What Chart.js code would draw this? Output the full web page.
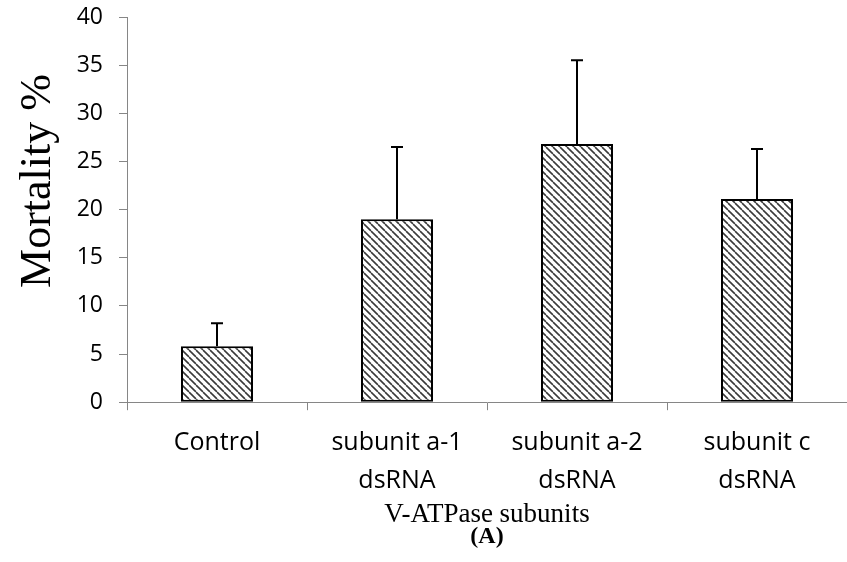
<!DOCTYPE html>
<html>
<head>
<meta charset="utf-8">
<script src="https://cdn.jsdelivr.net/npm/chart.js@4"></script>
<style>
    body { margin: 0; background: #fff; }
    #wrap { width: 847px; height: 562px; }
</style>
</head>
<body>
<div id="wrap"><canvas id="myChart" width="847" height="562"></canvas></div>
<script>
// data
const categories = [["Control"], ["subunit a-1", "dsRNA"], ["subunit a-2", "dsRNA"], ["subunit c", "dsRNA"]];
const mortality = [5.8, 19.0, 26.8, 21.1];
const errorTop = [8.2, 26.5, 35.5, 26.3];
const yTicks = [0, 5, 10, 15, 20, 25, 30, 35, 40];
const yTitle = "Mortality %";

function makeHatch() {
    const size = 7;
    const c = document.createElement("canvas");
    c.width = size;
    c.height = size;
    const g = c.getContext("2d");
    g.fillStyle = "#fff";
    g.fillRect(0, 0, size, size);
    g.strokeStyle = "#3a3a3a";
    g.lineWidth = 1.6;
    for (let k = -1; k <= 1; k++) {
        g.beginPath();
        g.moveTo(k * size, 0);
        g.lineTo(k * size + size, size);
        g.stroke();
    }
    return g.createPattern(c, "repeat");
}

const errorBars = {
    id: "errorBars",
    afterDatasetsDraw(chart) {
        const ctx = chart.ctx;
        const meta = chart.getDatasetMeta(0);
        const y = chart.scales.y;
        ctx.save();
        ctx.strokeStyle = "#000";
        ctx.lineWidth = 2;
        meta.data.forEach((bar, i) => {
            const top = y.getPixelForValue(errorTop[i]);
            ctx.beginPath();
            ctx.moveTo(bar.x, bar.y);
            ctx.lineTo(bar.x, top);
            ctx.moveTo(bar.x - 6, top);
            ctx.lineTo(bar.x + 6, top);
            ctx.stroke();
        });
        ctx.restore();
    }
};

// y title sits a bit above the middle of the axis in the original
const sideTitle = {
    id: "sideTitle",
    afterDraw(chart) {
        const ctx = chart.ctx;
        ctx.save();
        ctx.translate(38, 181);
        ctx.rotate(-Math.PI / 2);
        ctx.fillStyle = "#000";
        ctx.font = "44px 'Liberation Serif'";
        ctx.textAlign = "center";
        ctx.textBaseline = "middle";
        ctx.fillText(yTitle, 0, 0);
        ctx.restore();
    }
};

const config = {
    type: "bar",
    data: {
        labels: categories,
        datasets: [{
            data: mortality,
            backgroundColor: makeHatch(),
            borderColor: "#000",
            borderWidth: 2,
            borderSkipped: false,
            barPercentage: 0.4,
            categoryPercentage: 1
        }]
    },
    options: {
        responsive: false,
        animation: false,
        layout: { padding: { top: 17, right: 0, left: 0, bottom: 11 } },
        plugins: {
            legend: { display: false },
            tooltip: { enabled: false },
            subtitle: {
                display: true,
                text: "(A)",
                position: "bottom",
                fullSize: false,
                color: "#000",
                font: { family: "Liberation Serif", size: 24, weight: "bold" },
                padding: 0
            }
        },
        scales: {
            y: {
                min: 0,
                max: 40,
                afterBuildTicks: (scale) => {
                    scale.ticks = yTicks.map(v => ({ value: v }));
                },
                afterFit: (scale) => {
                    scale.width = 127;
                    scale.paddingTop = 0;
                    scale.paddingBottom = 0;
                },
                border: { color: "#868686", width: 1 },
                grid: { drawOnChartArea: false, tickLength: 8, color: "#868686" },
                ticks: {
                    color: "#000",
                    padding: 16,
                    font: { family: "Open Sans", size: 23 }
                }
            },
            x: {
                afterFit: (scale) => { scale.height = 120; },
                border: { color: "#868686", width: 1 },
                grid: { drawOnChartArea: false, tickLength: 8, color: "#868686", offset: true },
                ticks: {
                    color: "#000",
                    padding: 14,
                    maxRotation: 0,
                    font: { family: "Open Sans", size: 25, lineHeight: 1.52 }
                },
                title: {
                    display: true,
                    text: "V-ATPase subunits",
                    color: "#000",
                    font: { family: "Liberation Serif", size: 27 },
                    padding: { top: 0, bottom: -9 }
                }
            }
        }
    },
    plugins: [errorBars, sideTitle]
};

var myChart = new Chart(document.getElementById("myChart"), config);
</script>
</body>
</html>
